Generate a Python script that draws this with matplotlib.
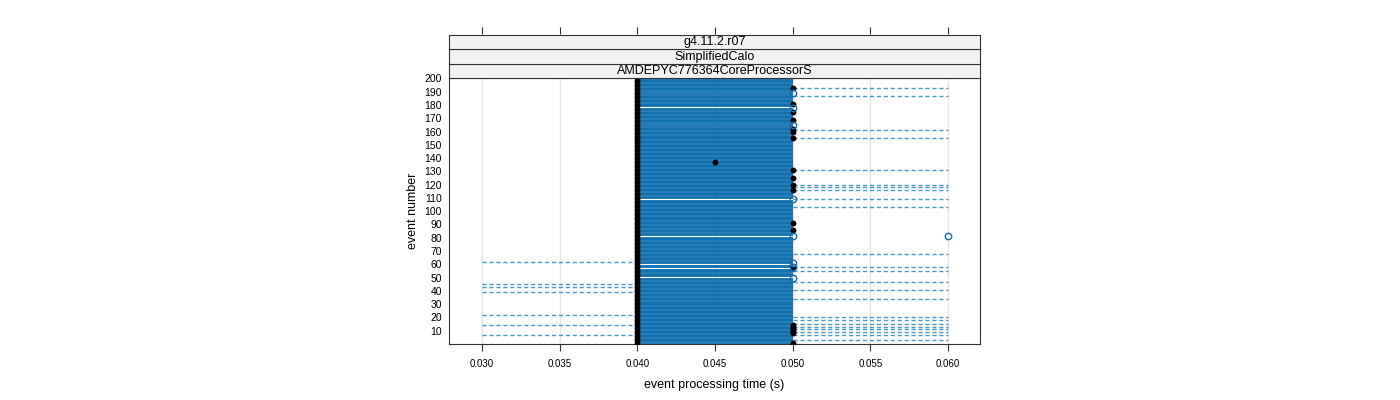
import numpy as np
import matplotlib
matplotlib.use("Agg")
import matplotlib.pyplot as plt

plt.rcParams['font.family'] = ['Liberation Sans', 'DejaVu Sans']

# --- data ---
events = list(range(1, 201))
base_time = 0.040          # black dot for every event
core_hi = 0.050            # upper end of the usual range

# events without the 0.040-0.050 segment (white gaps)
gap_events = [189, 178, 165, 109, 81, 60, 57, 50]
# events whose range extends up to 0.060
hi_events = [193, 187, 161, 155, 131, 120, 118, 116, 109, 103, 68, 58, 55,
             47, 41, 34, 20, 18, 15, 13, 11, 9, 7, 3]
hi_time = 0.060
# events whose range extends down to 0.030
lo_events = [62, 45, 43, 39, 22, 14, 7]
lo_time = 0.030
# extra filled dots
dot_events = [193, 181, 175, 169, 162, 160, 155, 137, 131, 125, 120, 116,
              91, 86, 57, 14, 13, 12, 11, 10, 9, 8, 1]
dot_times = [0.050, 0.050, 0.050, 0.050, 0.050, 0.050, 0.050, 0.045, 0.050,
             0.050, 0.050, 0.050, 0.050, 0.050, 0.050, 0.050, 0.050, 0.050,
             0.050, 0.050, 0.050, 0.050, 0.050]
# open circles
circ_events = [189, 178, 165, 109, 81, 81, 61, 58, 50]
circ_times = [0.050, 0.050, 0.050, 0.050, 0.050, 0.060, 0.050, 0.050, 0.050]

strips = ["g4.11.2.r07", "SimplifiedCalo", "AMDEPYC776364CoreProcessorS"]
xticks = [0.030, 0.035, 0.040, 0.045, 0.050, 0.055, 0.060]
yticks = list(range(10, 201, 10))

blue = '#0f6fae'
dash_blue = '#2a88c8'
xlim = (0.02788, 0.06206)

fig = plt.figure(figsize=(14, 4), dpi=100)
L, W = 449 / 1400, 531 / 1400
ax = fig.add_axes([L, 56 / 400, W, 266 / 400])

for x in xticks:
    ax.axvline(x, color='#e6e6e6', lw=1, zorder=0)

core = [e for e in events if e not in gap_events]
ax.hlines(core, base_time, core_hi, color=blue, lw=1.3, zorder=1)
ax.hlines(hi_events, core_hi, hi_time, color=dash_blue, lw=1.0,
          linestyles=(0, (3, 2)), alpha=0.85, zorder=1)
ax.hlines(lo_events, lo_time, base_time, color=dash_blue, lw=1.0,
          linestyles=(0, (3, 2)), alpha=0.85, zorder=1)

ax.plot([base_time] * len(events), events, 'o', color='black', ms=4,
        mew=0, zorder=3)
ax.plot(dot_times, dot_events, 'o', color='black', ms=4.2, mew=0, zorder=3)
ax.plot(circ_times, circ_events, 'o', mfc='none', mec=blue, ms=4.6,
        mew=1.0, zorder=4)

ax.set_xlim(*xlim)
ax.set_ylim(0, 200.3)
ax.set_xticks(xticks)
ax.set_xticklabels([f"{x:.3f}" for x in xticks], fontsize=7)
ax.set_yticks(yticks)
ax.set_yticklabels([str(y) for y in yticks], fontsize=7.5)
ax.tick_params(axis='x', direction='out', length=5, color='#333333', pad=6)
ax.tick_params(axis='y', length=0, pad=5)
for s in ax.spines.values():
    s.set_color('#333333')
    s.set_linewidth(0.8)
ax.set_xlabel("event processing time (s)", fontsize=9, labelpad=7)
ax.set_ylabel("event number", fontsize=9, labelpad=4)

# strips
sh = 14.5 / 400
for i, label in enumerate(reversed(strips)):
    sax = fig.add_axes([L, (322 + i * 14.5) / 400, W, sh])
    sax.set_facecolor('#f2f2f2')
    sax.set_xticks([])
    sax.set_yticks([])
    for s in sax.spines.values():
        s.set_color('#333333')
        s.set_linewidth(0.8)
    sax.text(0.5, 0.45, label, ha='center', va='center', fontsize=9,
             transform=sax.transAxes)

# top ticks above the strips
tax = fig.add_axes([L, 365.5 / 400, W, 0.001])
tax.set_xlim(*xlim)
tax.set_xticks(xticks)
tax.set_yticks([])
tax.xaxis.set_ticks_position('top')
tax.tick_params(axis='x', direction='out', length=5, color='#333333',
                labeltop=False, labelbottom=False)
for s in tax.spines.values():
    s.set_visible(False)
tax.patch.set_visible(False)

fig.savefig("out.png", dpi=100)
